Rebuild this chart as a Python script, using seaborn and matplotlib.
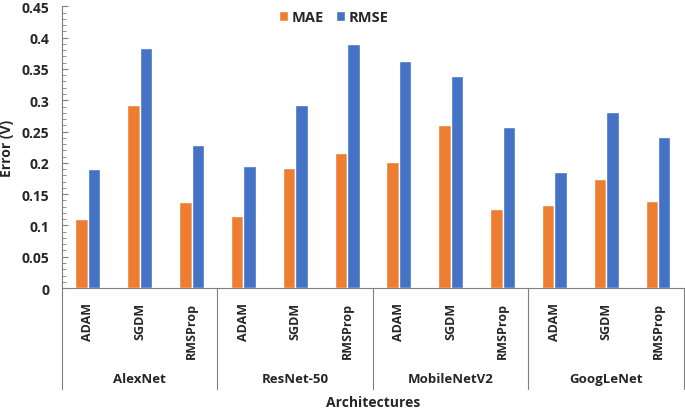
import numpy as np
import pandas as pd
import seaborn as sns
import matplotlib.pyplot as plt
from matplotlib.ticker import MultipleLocator

architectures = ["AlexNet", "ResNet-50", "MobileNetV2", "GoogLeNet"]
optimizers = ["ADAM", "SGDM", "RMSProp"]
mae = [0.110, 0.292, 0.137, 0.115, 0.192, 0.215, 0.202, 0.261, 0.127, 0.132, 0.175, 0.139]
rmse = [0.190, 0.384, 0.228, 0.195, 0.293, 0.390, 0.362, 0.338, 0.257, 0.186, 0.282, 0.241]
metrics = ["MAE", "RMSE"]
colors = ["#ED7D31", "#4472C4"]

# long-format table for seaborn
cats = [a + "|" + o for a in architectures for o in optimizers]
rows = []
for i, c in enumerate(cats):
    rows.append({"cat": c, "metric": "MAE", "value": mae[i]})
    rows.append({"cat": c, "metric": "RMSE", "value": rmse[i]})
df = pd.DataFrame(rows)

sns.set_style("white")
plt.rcParams['font.family'] = ['Open Sans', 'DejaVu Sans']
plt.rcParams['font.weight'] = 'bold'

fig = plt.figure(figsize=(6.85, 4.1), dpi=100)
ax = fig.add_axes([0.0905, 0.295, 0.908, 0.687])

sns.barplot(data=df, x="cat", y="value", hue="metric", order=cats, hue_order=metrics,
            palette=colors, saturation=1, width=0.48, gap=0, ax=ax, legend=True)

ax.set_ylim(0, 0.45)
ax.set_xlim(-0.5, len(cats) - 0.5)
ax.yaxis.set_major_locator(MultipleLocator(0.05))
ax.yaxis.set_minor_locator(MultipleLocator(0.01))
ax.set_yticks(np.arange(0, 0.451, 0.05))
ax.set_yticklabels(["0"] + ["%g" % v for v in np.arange(0.05, 0.451, 0.05)],
                   fontsize=10, fontweight='bold')
ax.tick_params(axis='y', which='major', direction='in', length=4, width=0.8, color='#7f7f7f', left=True, pad=9)
ax.tick_params(axis='y', which='minor', direction='in', length=3, width=0.6, color='#7f7f7f', left=True)

ax.set_xticks(range(len(cats)))
ax.set_xticklabels([o for a in architectures for o in optimizers], rotation=90,
                   fontsize=9, fontweight='bold')
ax.tick_params(axis='x', direction='in', length=4, width=0.8, color='#404040', bottom=True, pad=10)

for s in ["top", "right"]:
    ax.spines[s].set_visible(False)
ax.spines["left"].set_color('#7f7f7f')
ax.spines["bottom"].set_color('#7f7f7f')

ax.set_xlabel("")
ax.set_ylabel("Error (V)", fontsize=10, fontweight='bold')
ax.yaxis.set_label_coords(-0.077, 0.5)

# group separators and labels under the axis
trans = ax.get_xaxis_transform()
for k in range(len(architectures) + 1):
    xb = k * 3 - 0.5
    ax.plot([xb, xb], [0, -0.36], color='#7f7f7f', lw=0.8, transform=trans, clip_on=False)
for k, a in enumerate(architectures):
    ax.text(k * 3 + 1, -0.32, a, transform=trans, ha='center', va='center',
            fontsize=9.5, fontweight='bold')
ax.text(5.5, -0.405, "Architectures", transform=trans, ha='center', va='center',
        fontsize=10, fontweight='bold')

leg = ax.legend(loc='center', bbox_to_anchor=(0.437, 0.962), ncol=2, frameon=False,
                fontsize=10.5, handlelength=0.6, handleheight=0.6, columnspacing=0.8,
                handletextpad=0.3)
for t in leg.get_texts():
    t.set_fontweight('bold')

fig.savefig("out.png", dpi=100)
